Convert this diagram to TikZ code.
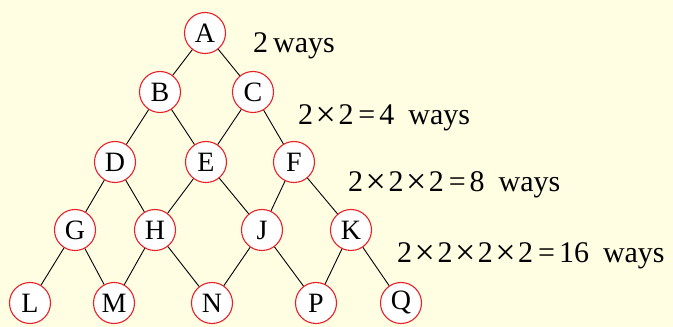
\documentclass[tikz,border=0pt]{standalone}
\usepackage{fontspec}
\setmainfont{Liberation Serif}
\usetikzlibrary{positioning}
\definecolor{bgyellow}{RGB}{255,253,226}
\definecolor{ringred}{RGB}{232,32,40}
\newcommand{\tms}{\kern2.5pt\raisebox{-2pt}{\fontsize{36}{34}\selectfont ×}\kern2.5pt}
\newcommand{\eqs}{\kern5pt=\kern4pt}

\begin{document}
\begin{tikzpicture}[x=1pt,y=1pt,
        vtx/.style={circle,draw=ringred,fill=white,line width=1.1pt,minimum size=41pt,inner sep=0pt,font=\fontsize{28}{32}\selectfont},
        waylabel/.style={anchor=base west,inner sep=0pt,font=\fontsize{30}{34}\selectfont}]
        \fill[bgyellow] (0,0) rectangle (673,327);
        \useasboundingbox (0,0) rectangle (673,327);
        % nodes, row by row
        \node[vtx] (A) at (205,294) {A};
        \node[vtx] (B) at (160,235) {B};
        \node[vtx] (C) at (253,235) {C};
        \node[vtx] (D) at (115,165) {D};
        \node[vtx] (E) at (206,165) {E};
        \node[vtx] (F) at (294,165) {F};
        \node[vtx] (G) at (75,97) {G};
        \node[vtx] (H) at (155,97) {H};
        \node[vtx] (J) at (262,97) {J};
        \node[vtx] (K) at (351,97) {K};
        \node[vtx] (L) at (30,24) {L};
        \node[vtx] (M) at (114,24) {M};
        \node[vtx] (N) at (212,24) {N};
        \node[vtx] (P) at (316,24) {P};
        \node[vtx] (Q) at (401,24) {Q};
        \draw[line width=0.9pt] (A) -- (B) (A) -- (C)
            (B) -- (D) (B) -- (E) (C) -- (E) (C) -- (F)
            (D) -- (G) (D) -- (H) (E) -- (H) (E) -- (J) (F) -- (J) (F) -- (K)
            (G) -- (L) (G) -- (M) (H) -- (M) (H) -- (N) (J) -- (N) (J) -- (P) (K) -- (P) (K) -- (Q);
        % counts
        \node[waylabel] (w1) at (253,274) {2\,ways};
        \node[waylabel] (w2) at (298,202) {2\tms2\eqs4\kern14pt ways};
        \node[waylabel] (w3) at (348,135) {2\tms2\tms2\eqs8\kern14pt ways};
        \node[waylabel] (w4) at (397,64) {2\tms2\tms2\tms2\eqs16\kern14pt ways};
    \end{tikzpicture}
\end{document}
